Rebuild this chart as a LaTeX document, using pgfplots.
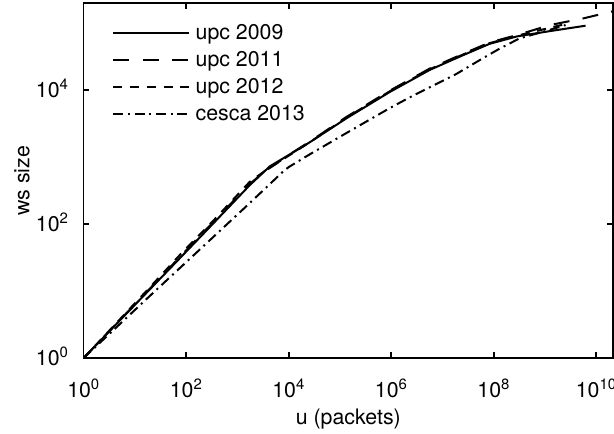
\documentclass[border=0pt]{standalone}
\usepackage{fontspec}
\setmainfont{TeX Gyre Heros}
\usepackage{pgfplots}
\pgfplotsset{compat=1.18}
\begin{document}
\begin{tikzpicture}
\begin{axis}[
  scale only axis,
  width=397pt, height=266pt,
  xmode=log, ymode=log,
  xmin=1, xmax=2.115e10,
  ymin=1, ymax=1.968e5,
  font=\fontsize{16}{19}\selectfont,
  axis line style={line width=1.3pt},
  every tick/.style={line width=1.3pt, black},
  tick align=inside,
  major tick length=4.2pt,
  minor xtick={}, minor ytick={},
  xtick={1,1e2,1e4,1e6,1e8,1e10},
  xticklabels={10\textsuperscript{0},10\textsuperscript{2},10\textsuperscript{4},10\textsuperscript{6},10\textsuperscript{8},10\textsuperscript{10}},
  ytick={1,1e2,1e4},
  yticklabels={10\textsuperscript{0},10\textsuperscript{2},10\textsuperscript{4}},
  xticklabel style={anchor=base, yshift=-29.5pt, inner sep=0pt},
  yticklabel style={anchor=base east, yshift=-5.7pt, xshift=-11pt, inner sep=0pt},
  xlabel={u (packets)},
  ylabel={ws size},
  xlabel style={at={(axis description cs:0.5,-0.186)}, anchor=base},
  ylabel style={at={(axis description cs:-0.1025,0.5)}, anchor=base},
  legend style={draw=none, fill=none, at={(axis description cs:0.0537,0.95)}, anchor=north west, inner sep=0pt, row sep=3.6pt, font=\fontsize{16}{19}\selectfont},
  legend cell align=left,
  legend image code/.code={\draw[#1] (0pt,0pt) -- (57pt,0pt); \path (59pt,0pt);},
  every axis plot/.append style={line width=1.5pt, black},
]
\addplot[solid] coordinates {
(1,1) (20.42,10.96) (87.1,34.67) (338.8,102.3) (1738,380.2) (4266,724.4) (10000,1071.5)
(25704,1659.6) (134896,3801.9) (933254,9332.5) (5.623e6,19953) (2.512e7,33113)
(8.318e7,48978) (2.818e8,63096) (1.259e9,75858) (6.166e9,91201)};
\addlegendentry{upc 2009}
\addplot[dash pattern=on 12pt off 10pt] coordinates {
(1,1) (20.42,11.22) (87.1,36.31) (338.8,107.2) (1738,398.1) (3802,645.7) (10000,1071.5)
(25704,1698.2) (134896,3981) (933254,9772) (5.623e6,20893) (2.512e7,34674)
(8.318e7,51286) (2.818e8,66069) (1.259e9,93325) (5.623e9,117490) (2.239e10,151356)};
\addlegendentry{upc 2011}
\addplot[dash pattern=on 6.8pt off 5.75pt] coordinates {
(1,1) (20.42,11.75) (87.1,38.9) (338.8,112.2) (1738,426.6) (3548,631) (10000,1047.1)
(25704,1659.6) (134896,3890) (933254,9550) (5.623e6,20417) (2.512e7,33884)
(8.318e7,50119) (2.818e8,64565) (1.259e9,85114) (2.692e9,97724)};
\addlegendentry{upc 2012}
\addplot[dash pattern=on 7.5pt off 3.5pt on 1.5pt off 3.5pt] coordinates {
(1,1) (20.42,8.71) (138.0,33.88) (1514,186.2) (7943,616.6) (10000,707.9)
(25704,1096.5) (134896,2290.9) (933254,5370) (2.291e6,7762) (1.862e7,17378)
(6.310e7,30200) (1.318e8,41687) (3.162e8,58884) (1.259e9,79433) (2.512e9,93325)};
\addlegendentry{cesca 2013}
\end{axis}
\pgfresetboundingbox
\path[use as bounding box] (-62.7pt,-56.25pt) rectangle (397.75pt,268.5pt);
\end{tikzpicture}
\end{document}
